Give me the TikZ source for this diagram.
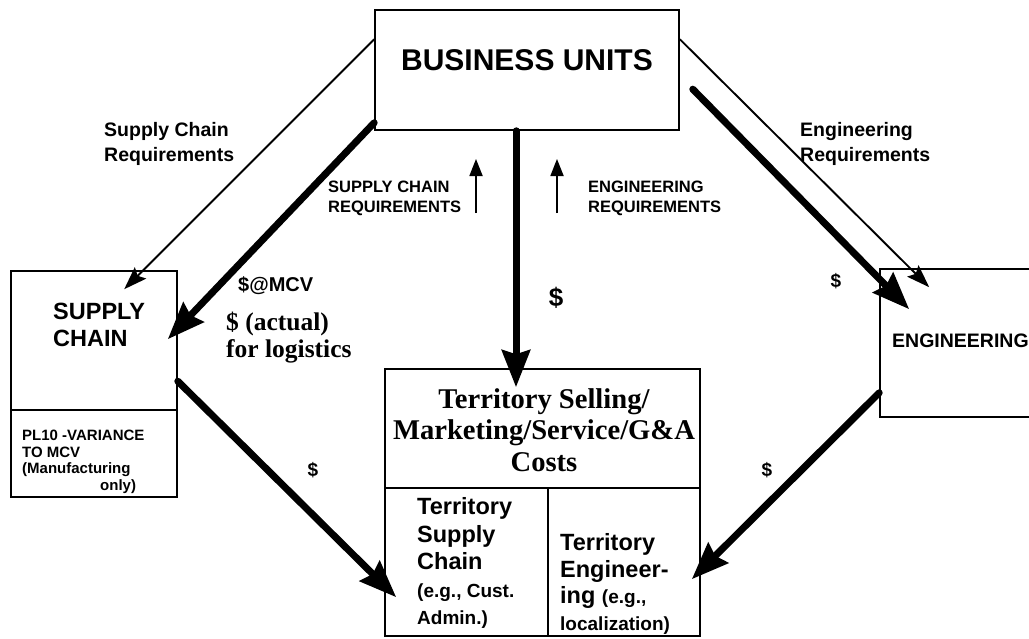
\documentclass[tikz,border=0pt]{standalone}
\usepackage{fontspec}
\setmainfont{Liberation Sans}
\newfontfamily\serifface{Liberation Serif}
\usetikzlibrary{arrows.meta,calc}
\begin{document}
\begin{tikzpicture}[x=1pt,y=-1pt,
  box/.style={draw, line width=1.6pt, inner sep=0pt, rectangle},
  heavyarrow/.style={line width=7pt, line cap=round, -{Stealth[length=37pt,width=28pt,inset=4pt]}},
  lightarrow/.style={line width=1.9pt, -{Stealth[length=23pt,width=16pt,inset=4pt]}},
  uparrow/.style={line width=1.8pt, -{Triangle[length=17pt,width=13pt]}},
  lbl/.style={inner sep=0pt, font=\bfseries},
]
\useasboundingbox (0,0) rectangle (1029,638);
\clip (0,0) rectangle (1029,638);

% boxes
\node[box, minimum width=304pt, minimum height=120pt] (bu) at (527,70) {};
\node[box, minimum width=166pt, minimum height=226pt] (sc) at (94,384) {};
\node[box, minimum width=175pt, minimum height=148pt] (eng) at (967.5,343) {};
\node[box, minimum width=315pt, minimum height=267pt] (terr) at (542.5,502.5) {};
\draw[line width=1.6pt] (sc.west |- 0,410) -- (sc.east |- 0,410);
\draw[line width=1.6pt] (terr.west |- 0,488) -- (terr.east |- 0,488);
\draw[line width=1.6pt] (548,488) -- (terr.south -| 548,0);

% box texts
\node[lbl, font=\bfseries\fontsize{30}{34}\selectfont] (butext) at (527,60) {BUSINESS UNITS};
\node[lbl, anchor=west, align=left, font=\bfseries\fontsize{23.5}{27}\selectfont] (sctext) at (53,325) {SUPPLY\\CHAIN};
\node[lbl, anchor=west, align=left, font=\bfseries\fontsize{15}{16.5}\selectfont] (pltext) at (22,462)
  {PL10 -VARIANCE\\TO MCV\\(Manufacturing\\\hspace*{78pt}only)};
\node[lbl, anchor=west, font=\bfseries\fontsize{19.5}{22}\selectfont] (engtext) at (892,341) {ENGINEERING};
\node[lbl, align=center, font=\serifface\bfseries\fontsize{28.6}{31.5}\selectfont] (terrtext) at (544,430)
  {Territory Selling/\\Marketing/Service/G\&A\\Costs};
\node[lbl, anchor=west, align=left, font=\bfseries\fontsize{23.5}{27.5}\selectfont] (tsctext) at (417,563)
  {Territory\\Supply\\Chain\\{\fontsize{19}{23}\selectfont(e.g., Cust.}\\{\fontsize{19}{23}\selectfont Admin.)}};
\node[lbl, anchor=west, align=left, font=\bfseries\fontsize{23.5}{26.5}\selectfont] (tengtext) at (560,584)
  {Territory\\Engineer-\\ing {\fontsize{19}{23}\selectfont(e.g.,}\\{\fontsize{19}{23}\selectfont localization)}};

% requirement flows
\draw[lightarrow] ($(bu.north west)+(0,30)$) -- ($(sc.north west)+(114,19)$);
\draw[lightarrow] ($(bu.north east)+(0,30)$) -- ($(eng.north west)+(50,19)$);

% money flows
\draw[heavyarrow] ($(bu.south west)+(0,-8)$) -- ($(sc.north east)+(-10,69)$);
\draw[heavyarrow] ($(bu.south)+(-11,0)$) -- ($(terr.north)+(-26.5,19)$);
\draw[heavyarrow] ($(bu.north east)+(13,80)$) -- ($(eng.north west)+(30,41)$);
\draw[heavyarrow] ($(sc.north east)+(0,111)$) -- ($(terr.north west)+(12,229)$);
\draw[heavyarrow] ($(eng.south west)+(0,-25)$) -- ($(terr.north east)+(-9,211)$);

% small upward arrows
\coordinate (u1a) at (476,213); \coordinate (u1b) at (476,159);
\coordinate (u2a) at (557,213); \coordinate (u2b) at (557,159);
\draw[uparrow] (u1a) -- (u1b);
\draw[uparrow] (u2a) -- (u2b);

% flow labels
\node[lbl, anchor=west, align=left, font=\bfseries\fontsize{19.5}{25}\selectfont] (l1) at (104,144) {Supply Chain\\Requirements};
\node[lbl, anchor=west, align=left, font=\bfseries\fontsize{19.5}{25}\selectfont] (l2) at (800,144) {Engineering\\Requirements};
\node[lbl, anchor=west, align=left, font=\bfseries\fontsize{16.5}{20}\selectfont] (l3) at (328,198) {SUPPLY CHAIN\\REQUIREMENTS};
\node[lbl, anchor=west, align=left, font=\bfseries\fontsize{16.5}{20}\selectfont] (l4) at (588,198) {ENGINEERING\\REQUIREMENTS};
\node[lbl, anchor=west, font=\bfseries\fontsize{20}{22}\selectfont] (l5) at (238,286) {\$@MCV};
\node[lbl, anchor=west, align=left, font=\serifface\bfseries\fontsize{25.5}{27}\selectfont] (l6) at (226,338) {\$ (actual)\\for logistics};
\node[lbl, font=\bfseries\fontsize{26}{30}\selectfont] (d1) at (556,298) {\$};
\node[lbl, font=\bfseries\fontsize{19}{20}\selectfont] (d2) at (836,281) {\$};
\node[lbl, font=\bfseries\fontsize{19}{20}\selectfont] (d3) at (313,470) {\$};
\node[lbl, font=\bfseries\fontsize{19}{20}\selectfont] (d4) at (767,470) {\$};
\end{tikzpicture}
\end{document}
